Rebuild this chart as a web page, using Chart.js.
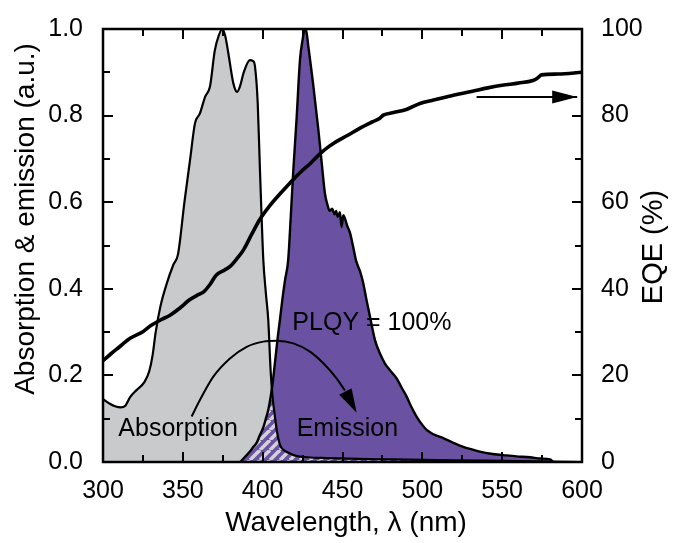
<!DOCTYPE html>
<html>
<head>
<meta charset="utf-8">
<script src="https://cdn.jsdelivr.net/npm/chart.js"></script>
<style>
  html, body { margin: 0; padding: 0; background: #fff; }
  canvas { display: block; }
</style>
</head>
<body>
<canvas id="chart" width="673" height="543"></canvas>
<script>
// --- DATA ---

// Absorption spectrum (left axis, a.u.)
const absWl = [300, 304, 308, 311, 314, 317, 321, 326, 329, 331, 333, 336, 340, 344, 347, 351, 354.5, 357.6, 360.7, 364, 367, 370, 372.5, 374.7, 376.5, 378.5, 381.6, 384, 386, 388, 392, 394, 395.2, 396.9, 398.3, 399.4, 400.4, 402, 403.5, 405, 406.2, 407.5, 408.8, 410.8, 413, 417, 421, 428, 440, 460, 480, 500, 520, 540, 560, 580, 600];
const absVal = [0.145, 0.135, 0.128, 0.126, 0.13, 0.15, 0.166, 0.185, 0.21, 0.245, 0.3, 0.36, 0.413, 0.455, 0.48, 0.6, 0.697, 0.782, 0.805, 0.844, 0.867, 0.95, 0.985, 1.0, 0.985, 0.944, 0.875, 0.855, 0.87, 0.898, 0.928, 0.926, 0.913, 0.829, 0.674, 0.559, 0.467, 0.39, 0.328, 0.21, 0.15, 0.11, 0.074, 0.04, 0.028, 0.02, 0.014, 0.011, 0.009, 0.007, 0.006, 0.005, 0.004, 0.003, 0.002, 0.001, 0];

// Emission spectrum (left axis, a.u.)
const emWl = [386, 389, 392, 394, 396.2, 398, 400.4, 402, 403.5, 405, 406.5, 408, 409.5, 410.8, 412.5, 414, 416, 417.5, 419.2, 421.2, 423.4, 425, 426, 427, 428.6, 430, 431.7, 434.8, 437, 439, 440.5, 442, 443.5, 445, 446, 447, 448.4, 449.4, 450.5, 451.5, 453, 454.7, 456.5, 458.5, 461, 463, 465, 467.2, 470.3, 473.4, 476.5, 479.7, 483.9, 487, 490.2, 493, 496.4, 499.5, 502.7, 507, 513.1, 519, 525.6, 531, 536, 543, 550.7, 559, 567.4, 574, 580, 582];
const emVal = [0, 0.012, 0.024, 0.034, 0.044, 0.06, 0.08, 0.1, 0.12, 0.15, 0.19, 0.24, 0.29, 0.328, 0.38, 0.42, 0.467, 0.56, 0.674, 0.79, 0.93, 0.975, 0.995, 1.0, 0.96, 0.92, 0.87, 0.77, 0.69, 0.62, 0.595, 0.58, 0.585, 0.572, 0.58, 0.566, 0.577, 0.543, 0.57, 0.563, 0.545, 0.529, 0.5, 0.465, 0.44, 0.413, 0.375, 0.336, 0.282, 0.251, 0.228, 0.212, 0.193, 0.172, 0.151, 0.128, 0.105, 0.088, 0.074, 0.064, 0.055, 0.045, 0.035, 0.029, 0.024, 0.019, 0.016, 0.013, 0.011, 0.008, 0.006, 0];

// Overlap of the two spectra (hatched area)
const overWl = [386, 389, 392, 394, 396.2, 398, 400.4, 402, 403.5, 405, 405.8, 407.5, 408.8, 410.8, 413, 417, 421, 428, 440, 460, 480, 500, 520, 540, 560, 580, 582];
const overVal = [0, 0.012, 0.024, 0.034, 0.044, 0.06, 0.08, 0.1, 0.12, 0.15, 0.17, 0.11, 0.074, 0.04, 0.028, 0.02, 0.014, 0.011, 0.009, 0.007, 0.006, 0.005, 0.004, 0.003, 0.002, 0.001, 0];

// EQE (right axis, %)
const eqeWl = [300, 305, 310, 317, 325, 330, 336, 342, 348, 354, 360, 363, 367, 371, 376, 380, 384, 388, 393, 398, 404, 411, 417, 423, 430, 436, 442, 448, 453, 461, 469, 473.4, 475.5, 482, 490, 498.5, 507, 515, 523, 532, 541, 550, 560, 569.3, 572, 574.7, 585, 600];
const eqeVal = [23.4, 25, 26.5, 28.6, 30.1, 31.5, 32.8, 33.9, 35.5, 37.4, 38.7, 39.3, 41, 43.2, 44.3, 45.3, 47, 49, 52.5, 55.9, 59, 62, 64.4, 66.7, 69, 71.2, 73, 74.4, 75.4, 77.1, 78.6, 79.4, 80.1, 80.7, 81.4, 82.8, 83.6, 84.3, 85, 85.7, 86.4, 87, 87.5, 88.1, 88.6, 89.4, 89.6, 90];

// Curved arrow (absorption -> emission), left axis units
const arcWl = [355.5, 360.7, 369.1, 379.5, 390, 400.4, 408.8, 419.2, 429.6, 438, 446.3, 451.5];
const arcVal = [0.105, 0.143, 0.197, 0.239, 0.266, 0.278, 0.28, 0.274, 0.255, 0.228, 0.193, 0.165];
const arcTip = [458.9, 0.114];

// Straight arrow pointing at the EQE axis, right axis units
const eqeArrowWl = [534, 597];
const eqeArrowVal = [84.3, 84.3];

// Text notes inside the plot
const noteText = ['Absorption', 'Emission', 'PLQY = 100%'];
const noteWl = [309.6, 421.3, 418.6];
const noteVal = [0.061, 0.061, 0.305];

// Tick labels
const xTicks = [300, 350, 400, 450, 500, 550, 600];
const yTicks = ['0.0', '0.2', '0.4', '0.6', '0.8', '1.0'];
const y1Ticks = ['0', '20', '40', '60', '80', '100'];

// --- helpers ---
const FONT = '"Liberation Sans", Arial, Helvetica, sans-serif';
const GRAY = '#c9cacc';
const PURPLE = '#6a51a1';

function pts(xs, ys) {
    return xs.map((x, i) => ({ x: x, y: ys[i] }));
}

// diagonal purple / grey hatch for the overlap
function makeHatch() {
    const n = 10;
    const c = document.createElement('canvas');
    c.width = n; c.height = n;
    const g = c.getContext('2d');
    g.fillStyle = PURPLE;
    g.fillRect(0, 0, n, n);
    g.strokeStyle = '#d2d2d5';
    g.lineWidth = 3.6;
    for (let k = -1; k <= 1; k++) {
        g.beginPath();
        g.moveTo(k * n, n);
        g.lineTo(k * n + n, 0);
        g.stroke();
    }
    return g.createPattern(c, 'repeat');
}

function drawHead(ctx, fx, fy, tx, ty, len, half) {
    const a = Math.atan2(ty - fy, tx - fx);
    const bx = tx - len * Math.cos(a), by = ty - len * Math.sin(a);
    ctx.beginPath();
    ctx.moveTo(tx, ty);
    ctx.lineTo(bx + half * Math.sin(a), by - half * Math.cos(a));
    ctx.lineTo(bx - half * Math.sin(a), by + half * Math.cos(a));
    ctx.closePath();
    ctx.fill();
}

// frame + inward ticks on all four sides
const frameTicks = {
    id: 'frameTicks',
    afterDraw(chart) {
        const { ctx, chartArea: a, scales } = chart;
        ctx.save();
        ctx.strokeStyle = '#000';
        ctx.lineWidth = 2;
        ctx.beginPath();
        for (let v = 300; v <= 600; v += 25) {
            const px = Math.round(scales.x.getPixelForValue(v));
            const L = (v % 50 === 0) ? 10 : 7;
            ctx.moveTo(px, a.bottom); ctx.lineTo(px, a.bottom - L);
            ctx.moveTo(px, a.top); ctx.lineTo(px, a.top + L);
        }
        for (let i = 0; i <= 10; i++) {
            const L = (i % 2 === 0) ? 10 : 7;
            const py = Math.round(scales.y.getPixelForValue(i / 10));
            ctx.moveTo(a.left, py); ctx.lineTo(a.left + L, py);
            const py1 = Math.round(scales.y1.getPixelForValue(i * 10));
            ctx.moveTo(a.right, py1); ctx.lineTo(a.right - L, py1);
        }
        ctx.stroke();
        ctx.lineWidth = 2.5;
        ctx.strokeRect(a.left, a.top, a.right - a.left, a.bottom - a.top);

        // axis titles
        ctx.fillStyle = '#000';
        ctx.font = '28px ' + FONT;
        ctx.textAlign = 'center';
        ctx.textBaseline = 'alphabetic';
        ctx.fillText('Wavelength, \u03BB (nm)', 346, 531);
        ctx.save();
        ctx.translate(34, 219);
        ctx.rotate(-Math.PI / 2);
        ctx.fillText('Absorption & emission (a.u.)', 0, 0);
        ctx.restore();
        ctx.save();
        ctx.translate(662, 247);
        ctx.rotate(-Math.PI / 2);
        ctx.font = '29px ' + FONT;
        ctx.fillText('EQE (%)', 0, 0);
        ctx.restore();
        ctx.restore();
    }
};

// arrow heads and in-plot notes
const notes = {
    id: 'notes',
    afterDatasetsDraw(chart) {
        const { ctx, scales } = chart;
        const x = scales.x, y = scales.y, y1 = scales.y1;
        ctx.save();
        ctx.fillStyle = '#000';
        const n = arcWl.length - 1;
        drawHead(ctx, x.getPixelForValue(arcWl[n]), y.getPixelForValue(arcVal[n]),
            x.getPixelForValue(arcTip[0]), y.getPixelForValue(arcTip[1]), 24, 7);
        drawHead(ctx, x.getPixelForValue(eqeArrowWl[0]), y1.getPixelForValue(eqeArrowVal[0]),
            x.getPixelForValue(eqeArrowWl[1]), y1.getPixelForValue(eqeArrowVal[1]), 25, 6.5);

        ctx.font = '25px ' + FONT;
        ctx.textAlign = 'left';
        ctx.textBaseline = 'alphabetic';
        noteText.forEach((t, i) => {
            ctx.fillText(t, x.getPixelForValue(noteWl[i]), y.getPixelForValue(noteVal[i]));
        });
        ctx.restore();
    }
};

const tickFont = { family: FONT, size: 25 };

new Chart(document.getElementById('chart'), {
    type: 'line',
    data: {
        datasets: [
            { data: pts(arcWl, arcVal), borderColor: '#000', borderWidth: 2, fill: false, cubicInterpolationMode: 'monotone', yAxisID: 'y', order: 1 },
            { data: pts(eqeArrowWl, eqeArrowVal), borderColor: '#000', borderWidth: 2, fill: false, yAxisID: 'y1', order: 2 },
            { data: pts(eqeWl, eqeVal), borderColor: '#000', borderWidth: 3.6, fill: false, cubicInterpolationMode: 'monotone', yAxisID: 'y1', order: 3 },
            { data: pts(emWl, emVal), borderColor: '#000', borderWidth: 2.4, fill: false, cubicInterpolationMode: 'monotone', yAxisID: 'y', order: 4 },
            { data: pts(absWl, absVal), borderColor: '#000', borderWidth: 2.2, fill: false, cubicInterpolationMode: 'monotone', yAxisID: 'y', order: 5 },
            { data: pts(overWl, overVal), borderColor: 'rgba(0,0,0,0)', borderWidth: 0, backgroundColor: makeHatch(), fill: 'origin', cubicInterpolationMode: 'monotone', yAxisID: 'y', order: 6 },
            { data: pts(emWl, emVal), borderColor: 'rgba(0,0,0,0)', borderWidth: 0, backgroundColor: PURPLE, fill: 'origin', cubicInterpolationMode: 'monotone', yAxisID: 'y', order: 7 },
            { data: pts(absWl, absVal), borderColor: 'rgba(0,0,0,0)', borderWidth: 0, backgroundColor: GRAY, fill: 'origin', cubicInterpolationMode: 'monotone', yAxisID: 'y', order: 8 }
        ]
    },
    options: {
        responsive: false,
        animation: false,
        devicePixelRatio: 1,
        layout: { padding: { top: 29, left: 0, right: 0, bottom: 0 } },
        elements: { point: { radius: 0 } },
        plugins: {
            legend: { display: false },
            tooltip: { enabled: false },
            filler: { drawTime: 'beforeDatasetsDraw' }
        },
        scales: {
            x: {
                type: 'linear', position: 'bottom', min: 300, max: 600,
                grid: { display: false }, border: { display: false },
                afterBuildTicks: s => { s.ticks = xTicks.map(v => ({ value: v })); },
                ticks: { font: tickFont, color: '#000', padding: 6, autoSkip: false, maxRotation: 0, callback: v => String(v) },
                afterFit: s => { s.height = 81; }
            },
            y: {
                type: 'linear', position: 'left', min: 0, max: 1,
                grid: { display: false }, border: { display: false },
                afterBuildTicks: s => { s.ticks = yTicks.map(t => ({ value: parseFloat(t) })); },
                ticks: { font: tickFont, color: '#000', padding: 12, autoSkip: false, callback: v => v.toFixed(1) },
                afterFit: s => { s.width = 103; }
            },
            y1: {
                type: 'linear', position: 'right', min: 0, max: 100,
                grid: { display: false }, border: { display: false },
                afterBuildTicks: s => { s.ticks = y1Ticks.map(t => ({ value: parseFloat(t) })); },
                ticks: { font: tickFont, color: '#000', padding: 11, autoSkip: false, callback: v => String(v) },
                afterFit: s => { s.width = 91; }
            }
        }
    },
    plugins: [frameTicks, notes]
});
</script>
</body>
</html>
